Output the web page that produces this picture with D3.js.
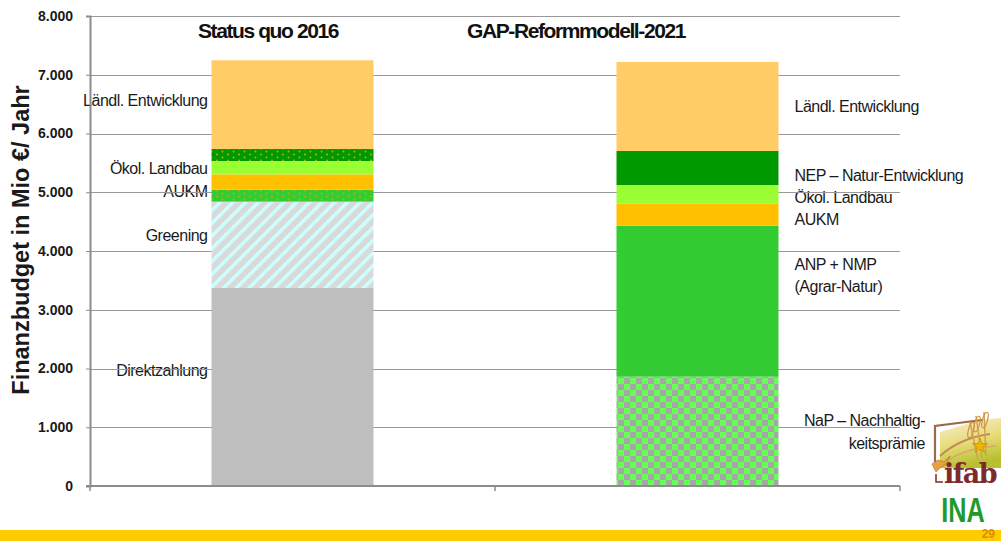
<!DOCTYPE html>
<html>
<head>
<meta charset="utf-8">
<script src="https://cdn.jsdelivr.net/npm/d3@7"></script>
<style>
  body { margin: 0; background: #fff; }
  svg { display: block; font-family: "Liberation Sans", Arial, sans-serif; }
</style>
</head>
<body>
<div id="chart"></div>
<script>
// ---- data (Mio €/Jahr), segments listed bottom to top ----
const categories = ["Status quo 2016", "GAP-Reformmodell-2021"];
const yTicks = [0, 1000, 2000, 3000, 4000, 5000, 6000, 7000, 8000];

const statusQuoNames = ["Direktzahlung", "Greening", "AUKM-Grün", "AUKM", "Ökol. Landbau", "NEP-Grün", "Ländl. Entwicklung"];
const statusQuoValues = [3370, 1470, 204, 261, 227, 204, 1510];

const reformNames = ["NaP", "ANP + NMP", "AUKM", "Ökol. Landbau", "NEP", "Ländl. Entwicklung"];
const reformValues = [1861, 2569, 375, 318, 579, 1515];

// segment labels and the value they sit at
const statusQuoNotes = ["Ländl. Entwicklung", "Ökol. Landbau", "AUKM", "Greening", "Direktzahlung"];
const statusQuoNoteAt = [6570, 5413, 5021, 4272, 1974];
const reformNotes = ["Ländl. Entwicklung", "NEP – Natur-Entwicklung", "Ökol. Landbau", "AUKM", "ANP + NMP", "(Agrar-Natur)", "NaP – Nachhaltig-", "keitsprämie"];
const reformNoteAt = [6468, 5294, 4919, 4545, 3779, 3404, 1123, 732];

const width = 1001, height = 541;
const margin = {top: 16, right: 101, bottom: 55, left: 90};

const svg = d3.select("#chart").append("svg")
    .attr("width", width)
    .attr("height", height);

// patterns
const defs = svg.append("defs");

function dotPattern(id, base, dot) {
    const p = defs.append("pattern")
        .attr("id", id)
        .attr("patternUnits", "userSpaceOnUse")
        .attr("width", 11).attr("height", 6);
    p.append("rect").attr("width", 11).attr("height", 6).attr("fill", base);
    p.append("circle").attr("cx", 2.5).attr("cy", 1.5).attr("r", 0.9).attr("fill", dot);
    p.append("circle").attr("cx", 8).attr("cy", 4.5).attr("r", 0.9).attr("fill", dot);
}
dotPattern("dotsDark", "#009900", "#c8b400");
dotPattern("dotsGreen", "#33cc33", "#d0a800");

const stripes = defs.append("pattern")
    .attr("id", "stripes")
    .attr("patternUnits", "userSpaceOnUse")
    .attr("width", 9).attr("height", 9)
    .attr("patternTransform", "rotate(45)");
stripes.append("rect").attr("width", 9).attr("height", 9).attr("fill", "#d9d9d9");
stripes.append("rect").attr("width", 3.5).attr("height", 9).attr("fill", "#ccffff");

const checker = defs.append("pattern")
    .attr("id", "checker")
    .attr("patternUnits", "userSpaceOnUse")
    .attr("width", 12).attr("height", 12);
checker.append("rect").attr("width", 12).attr("height", 12).attr("fill", "#a6a6a6");
checker.append("rect").attr("width", 6).attr("height", 6).attr("fill", "#66ff55");
checker.append("rect").attr("x", 6).attr("y", 6).attr("width", 6).attr("height", 6).attr("fill", "#66ff55");

const fills = {
    "Direktzahlung": "#bfbfbf",
    "Greening": "url(#stripes)",
    "AUKM-Grün": "url(#dotsGreen)",
    "AUKM": "#ffc000",
    "Ökol. Landbau": "#99ff33",
    "NEP-Grün": "url(#dotsDark)",
    "Ländl. Entwicklung": "#ffcc66",
    "NEP": "#009900",
    "ANP + NMP": "#33cc33",
    "NaP": "url(#checker)"
};

// scales
const x = d3.scaleBand()
    .domain(categories)
    .range([margin.left, width - margin.right])
    .paddingInner(0.6)
    .paddingOuter(0.3);

const y = d3.scaleLinear()
    .domain([0, 8000])
    .range([height - margin.bottom, margin.top]);

// segment labels (drawn under the grid lines, like the slide)
const noteStyle = function (sel) {
    sel.attr("font-size", 16)
        .attr("letter-spacing", -0.5)
        .attr("fill", "#1a1a1a")
        .attr("dy", "0.35em");
};
svg.append("g").selectAll("text")
    .data(statusQuoNotes)
    .enter()
    .append("text")
    .attr("x", x(categories[0]) - 4)
    .attr("y", function (d, i) { return y(statusQuoNoteAt[i]); })
    .attr("text-anchor", "end")
    .call(noteStyle)
    .text(function (d) { return d; });

svg.append("g").selectAll("text")
    .data(reformNotes)
    .enter()
    .append("text")
    .attr("x", function (d, i) {
        // the NaP note is right aligned next to the logo
        return i >= 6 ? 925 : x(categories[1]) + x.bandwidth() + 16;
    })
    .attr("y", function (d, i) { return y(reformNoteAt[i]); })
    .attr("text-anchor", function (d, i) { return i >= 6 ? "end" : "start"; })
    .call(noteStyle)
    .text(function (d) { return d; });

// grid lines
svg.append("g")
    .selectAll("line")
    .data(yTicks.slice(1))
    .enter()
    .append("line")
    .attr("x1", margin.left)
    .attr("x2", width - margin.right)
    .attr("y1", function (d) { return Math.round(y(d)) + 0.5; })
    .attr("y2", function (d) { return Math.round(y(d)) + 0.5; })
    .attr("stroke", "#999")
    .attr("stroke-width", 1.2);

// stacked bars
function drawStack(category, names, values) {
    const tops = d3.cumsum(values);
    svg.append("g")
        .selectAll("rect")
        .data(names)
        .enter()
        .append("rect")
        .attr("x", x(category))
        .attr("width", x.bandwidth())
        .attr("y", function (d, i) { return y(tops[i]); })
        .attr("height", function (d, i) { return y(tops[i] - values[i]) - y(tops[i]); })
        .attr("fill", function (d) { return fills[d]; });
}
drawStack(categories[0], statusQuoNames, statusQuoValues);
drawStack(categories[1], reformNames, reformValues);

// y axis
const yAxis = svg.append("g")
    .attr("transform", "translate(" + margin.left + ",0)")
    .call(d3.axisLeft(y)
        .tickValues(yTicks)
        .tickSize(4)
        .tickPadding(13)
        .tickFormat(function (d) { return d3.format(",")(d).replace(",", "."); }));
yAxis.select(".domain").attr("stroke", "#8c8c8c").attr("stroke-width", 2);
yAxis.selectAll(".tick line").attr("stroke", "#8c8c8c");
yAxis.selectAll(".tick text")
    .attr("font-family", "Liberation Sans, Arial, sans-serif")
    .attr("font-size", 14)
    .attr("font-weight", "bold")
    .attr("fill", "#1a1a1a");

// x axis: plain line with ticks between the categories
const xAxis = svg.append("g")
    .attr("transform", "translate(0," + (height - margin.bottom) + ")");
xAxis.append("line")
    .attr("x1", margin.left - 4)
    .attr("x2", width - margin.right)
    .attr("stroke", "#8c8c8c")
    .attr("stroke-width", 2);
xAxis.selectAll(".sep")
    .data([margin.left, margin.left + x.step(), width - margin.right])
    .enter()
    .append("line")
    .attr("x1", function (d) { return d; })
    .attr("x2", function (d) { return d; })
    .attr("y1", 0)
    .attr("y2", 5)
    .attr("stroke", "#8c8c8c")
    .attr("stroke-width", 1.5);

// y axis title
svg.append("text")
    .attr("transform", "translate(29,240) rotate(-90)")
    .attr("text-anchor", "middle")
    .attr("font-size", 23.5)
    .attr("font-weight", "bold")
    .attr("fill", "#1a1a1a")
    .text("Finanzbudget in Mio €/ Jahr");

// column titles
const titleX = [268, 576];
svg.append("g").selectAll("text")
    .data(categories)
    .enter()
    .append("text")
    .attr("x", function (d, i) { return titleX[i]; })
    .attr("y", 38)
    .attr("text-anchor", "middle")
    .attr("font-size", 21)
    .attr("font-weight", "bold")
    .attr("letter-spacing", -1.4)
    .attr("fill", "#111")
    .text(function (d) { return d; });

// ifab logo (simplified)
const logo = svg.append("g").attr("transform", "translate(930,412)");
const grad = defs.append("linearGradient")
    .attr("id", "field")
    .attr("x1", 0).attr("y1", 0).attr("x2", 0.3).attr("y2", 1);
grad.append("stop").attr("offset", 0).attr("stop-color", "#f7efd8");
grad.append("stop").attr("offset", 0.55).attr("stop-color", "#e8dc7a");
grad.append("stop").attr("offset", 1).attr("stop-color", "#b8c030");
logo.append("path")
    .attr("d", "M10,20 L50,8 L71,6 L71,56 L10,56 Z")
    .attr("fill", "url(#field)");
logo.append("path")
    .attr("d", "M5,50 L5,14 L52,8")
    .attr("fill", "none").attr("stroke", "#9a6a4a").attr("stroke-width", 2.2);
logo.append("path")
    .attr("d", "M10,44 Q30,26 60,22")
    .attr("fill", "none").attr("stroke", "#c08a5a").attr("stroke-width", 2);
logo.append("path")
    .attr("d", "M12,52 Q34,36 66,34")
    .attr("fill", "none").attr("stroke", "#d6a86a").attr("stroke-width", 1.5);
[[46, 4, 52, 46], [54, 0, 56, 44], [40, 10, 48, 48]].forEach(function (s) {
    logo.append("line")
        .attr("x1", s[0]).attr("y1", s[1]).attr("x2", s[2]).attr("y2", s[3])
        .attr("stroke", "#d2a050").attr("stroke-width", 1.5);
    logo.append("ellipse")
        .attr("cx", s[0] + 1).attr("cy", s[1] + 8)
        .attr("rx", 2.5).attr("ry", 8)
        .attr("transform", "rotate(15," + (s[0] + 1) + "," + (s[1] + 8) + ")")
        .attr("fill", "none").attr("stroke", "#d09040").attr("stroke-width", 1.2);
});
logo.append("path")
    .attr("d", d3.symbol(d3.symbolStar, 70)())
    .attr("transform", "translate(50,34)")
    .attr("fill", "#f0b800").attr("stroke", "#c08000").attr("stroke-width", 0.6);
logo.append("path")
    .attr("d", "M2,52 L8,48 L14,50 L20,44 L16,52 L10,56 L6,60 Z")
    .attr("fill", "#e8a040").attr("stroke", "#b06a20").attr("stroke-width", 0.6);
logo.append("text")
    .attr("x", 14).attr("y", 71)
    .attr("font-family", "DejaVu Serif, Liberation Serif, serif")
    .attr("font-weight", "bold")
    .attr("font-size", 27)
    .attr("letter-spacing", -1.5)
    .attr("fill", "#7f2a2a")
    .text("ifab");
logo.append("path")
    .attr("d", "M6,62 L6,70 L13,70")
    .attr("fill", "none").attr("stroke", "#7f2a2a").attr("stroke-width", 1.5);

// INA logo
svg.append("text")
    .attr("transform", "translate(963,522) scale(0.72,1)")
    .attr("text-anchor", "middle")
    .attr("font-family", "Liberation Sans, Arial, sans-serif")
    .attr("font-weight", "bold")
    .attr("font-size", 35)
    .attr("fill", "#22992a")
    .text("INA");

// bottom band with page number
svg.append("rect")
    .attr("x", 0).attr("y", 530)
    .attr("width", width).attr("height", height - 530)
    .attr("fill", "#ffcc00");
svg.append("text")
    .attr("x", 995).attr("y", 538)
    .attr("text-anchor", "end")
    .attr("font-size", 12)
    .attr("font-weight", "bold")
    .attr("fill", "#e08a00")
    .text("29");
</script>
</body>
</html>
